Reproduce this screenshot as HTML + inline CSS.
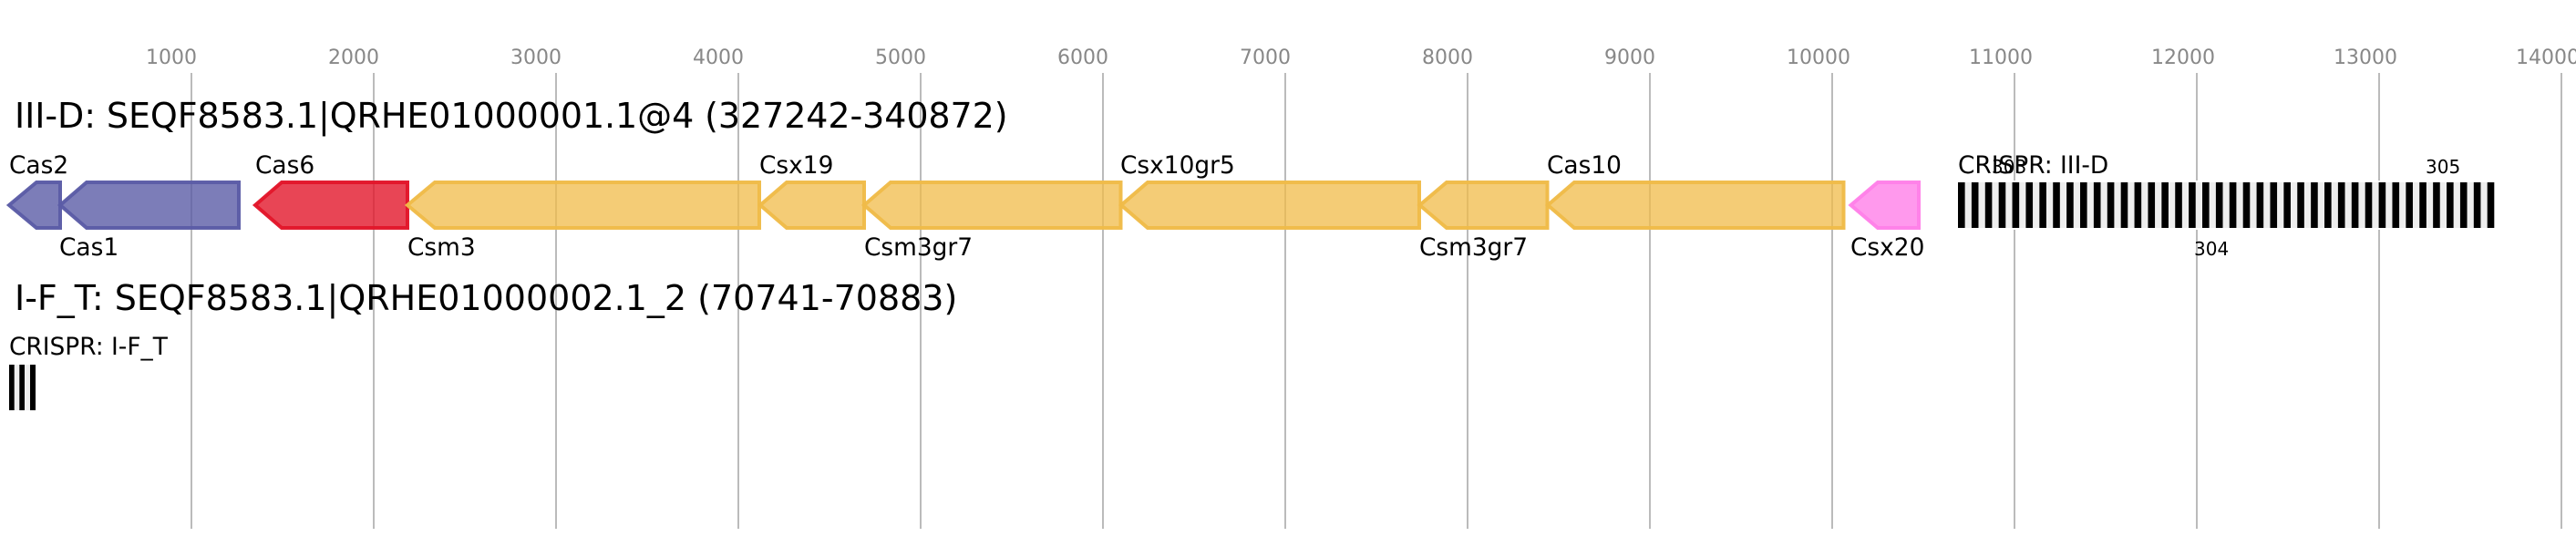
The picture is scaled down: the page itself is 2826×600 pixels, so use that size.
<!DOCTYPE html>
<html>
<head>
<meta charset="utf-8">
<style>
html,body{margin:0;padding:0;background:#fff}
svg{display:block}
text{font-family:"DejaVu Sans",sans-serif;fill:#000}
.t{font-size:22px;fill:#888}
.h{font-size:38px}
.l{font-size:26.4px}
.n{font-size:20px}
.g{stroke:#bbb;stroke-width:2}
.p{fill:#5b5ca6;stroke:#5b5ca6}
.r{fill:#e2162a;stroke:#e2162a}
.y{fill:#f0bb48;stroke:#f0bb48}
.k{fill:#ff80e8;stroke:#ff80e8}
polygon{fill-opacity:.8;stroke-width:4;stroke-opacity:.97}
polygon.y{fill-opacity:.75}
</style>
</head>
<body>
<svg width="2826" height="600" viewBox="0 0 2826 600" xmlns="http://www.w3.org/2000/svg">
<rect width="2826" height="600" fill="#fff"/>
<g>
<line class="g" x1="210" y1="80" x2="210" y2="580"/>
<line class="g" x1="410" y1="80" x2="410" y2="580"/>
<line class="g" x1="610" y1="80" x2="610" y2="580"/>
<line class="g" x1="810" y1="80" x2="810" y2="580"/>
<line class="g" x1="1010" y1="80" x2="1010" y2="580"/>
<line class="g" x1="1210" y1="80" x2="1210" y2="580"/>
<line class="g" x1="1410" y1="80" x2="1410" y2="580"/>
<line class="g" x1="1610" y1="80" x2="1610" y2="580"/>
<line class="g" x1="1810" y1="80" x2="1810" y2="580"/>
<line class="g" x1="2010" y1="80" x2="2010" y2="580"/>
<line class="g" x1="2210" y1="80" x2="2210" y2="580"/>
<line class="g" x1="2410" y1="80" x2="2410" y2="580"/>
<line class="g" x1="2610" y1="80" x2="2610" y2="580"/>
<line class="g" x1="2810" y1="80" x2="2810" y2="580"/>
</g>
<g>
<text class="t" x="160" y="70">1000</text>
<text class="t" x="360" y="70">2000</text>
<text class="t" x="560" y="70">3000</text>
<text class="t" x="760" y="70">4000</text>
<text class="t" x="960" y="70">5000</text>
<text class="t" x="1160" y="70">6000</text>
<text class="t" x="1360" y="70">7000</text>
<text class="t" x="1560" y="70">8000</text>
<text class="t" x="1760" y="70">9000</text>
<text class="t" x="1960" y="70">10000</text>
<text class="t" x="2160" y="70">11000</text>
<text class="t" x="2360" y="70">12000</text>
<text class="t" x="2560" y="70">13000</text>
<text class="t" x="2760" y="70">14000</text>
</g>
<text class="h" x="16" y="140" letter-spacing="-0.08">III-D: SEQF8583.1|QRHE01000001.1@4 (327242-340872)</text>
<text class="h" x="16" y="340">I-F_T: SEQF8583.1|QRHE01000002.1_2 (70741-70883)</text>

<polygon class="p" points="10,225 40,200 66,200 66,250 40,250"/>
<polygon class="p" points="66,225 95,200 262,200 262,250 95,250"/>
<polygon class="r" points="280,225 309,200 447,200 447,250 309,250"/>
<polygon class="y" points="447,225 477,200 833,200 833,250 477,250"/>
<polygon class="y" points="834,225 863,200 948,200 948,250 863,250"/>
<polygon class="y" points="948,225 977,200 1229.5,200 1229.5,250 977,250"/>
<polygon class="y" points="1230,225 1259,200 1557,200 1557,250 1259,250"/>
<polygon class="y" points="1557.5,225 1587,200 1697.5,200 1697.5,250 1587,250"/>
<polygon class="y" points="1698,225 1727,200 2022.5,200 2022.5,250 1727,250"/>
<polygon class="k" points="2030.5,225 2060,200 2105,200 2105,250 2060,250"/>

<text class="l" x="10" y="190">Cas2</text>
<text class="l" x="65" y="280">Cas1</text>
<text class="l" x="280" y="190">Cas6</text>
<text class="l" x="447" y="280">Csm3</text>
<text class="l" x="833" y="190">Csx19</text>
<text class="l" x="948" y="280">Csm3gr7</text>
<text class="l" x="1229" y="190">Csx10gr5</text>
<text class="l" x="1557" y="280">Csm3gr7</text>
<text class="l" x="1697" y="190">Cas10</text>
<text class="l" x="2030" y="280">Csx20</text>

<rect x="2146" y="198" width="592" height="54" fill="#fff"/>
<rect x="2148" y="200" width="588.3" height="50" fill="#eee"/>
<line x1="2148" y1="225" x2="2736.3" y2="225" stroke="#000" stroke-width="50" stroke-dasharray="7.6 7.29"/>
<text class="l" x="2148" y="190">CRISPR: III-D</text>
<text class="n" x="2185" y="190">303</text>
<text class="n" x="2407" y="280">304</text>
<text class="n" x="2661" y="190">305</text>

<text class="l" x="10" y="389">CRISPR: I-F_T</text>
<rect x="10" y="400" width="29" height="50" fill="#eee"/>
<rect x="10" y="400" width="5.7" height="50" fill="#000"/>
<rect x="21.3" y="400" width="5.7" height="50" fill="#000"/>
<rect x="33" y="400" width="6" height="50" fill="#000"/>
</svg>
</body>
</html>
